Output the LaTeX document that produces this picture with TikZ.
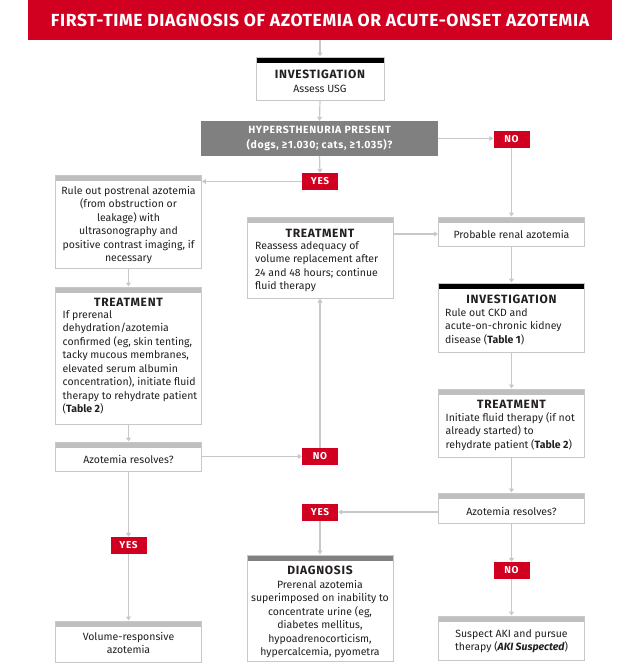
\documentclass[tikz,border=0pt]{standalone}
\usepackage{fontspec}
\setmainfont{Fira Sans}
\newfontfamily\headfont[LetterSpace=6]{Fira Sans}
\newfontfamily\titlefont[LetterSpace=3.5]{Fira Sans}
\usetikzlibrary{arrows.meta}
\definecolor{brandred}{RGB}{210,0,32}
\definecolor{hypgray}{RGB}{128,128,128}
\definecolor{barlight}{RGB}{191,191,191}
\definecolor{edgegray}{RGB}{200,200,200}
\definecolor{linegray}{RGB}{200,200,200}
\definecolor{inktext}{RGB}{35,31,32}
\begin{document}
\begin{tikzpicture}[x=1pt,y=-1pt,
  box/.style={draw=edgegray,line width=1pt,fill=white,inner sep=0pt,minimum width=146pt},
  topbar/.style={path picture={\fill[#1] (path picture bounding box.north west) rectangle ([yshift=-6pt]path picture bounding box.north east);}},
  body/.style={inner sep=0pt,text=inktext,font=\fontsize{10.5}{13.5}\selectfont},
  head/.style={inner sep=0pt,text=inktext,font=\headfont\bfseries\fontsize{12}{14}\selectfont},
  badge/.style={fill=brandred,text=white,inner sep=0pt,minimum width=36pt,minimum height=17pt,font=\headfont\bfseries\fontsize{10}{12}\selectfont},
  conn/.style={draw=linegray,line width=1.2pt,-{Triangle[length=4pt,width=5pt]}},
]
\useasboundingbox (0,0) rectangle (640,672);

% title
\node[fill=brandred,minimum width=584pt,minimum height=40pt,inner sep=0pt,text=white,font=\titlefont\bfseries\fontsize{17.5}{20}\selectfont] (title) at (320,20) {FIRST-TIME DIAGNOSIS OF AZOTEMIA OR ACUTE-ONSET AZOTEMIA};

% investigation
\node[box,topbar=black,minimum width=128pt,minimum height=43pt] (inv1) at (320,78.5) {};
\node[head] (inv1H) at (320,74) {INVESTIGATION};
\node[body] (inv1T) at (320,89) {Assess USG};

% hypersthenuria
\node[fill=hypgray,minimum width=237pt,minimum height=35pt,inner sep=0pt,text=white,align=center,font=\headfont\bfseries\fontsize{10.5}{15.5}\selectfont] (hyp) at (319.5,138.5) {HYPERSTHENURIA PRESENT\\(dogs, ≥1.030; cats, ≥1.035)?};

% badges
\node[badge] (yes1) at (320,181.5) {YES};
\node[badge] (no1) at (511.5,139) {NO};
\node[badge] (no2) at (320,456.5) {NO};
\node[badge] (yes2) at (320,512) {YES};
\node[badge] (yes3) at (128.5,545.5) {YES};
\node[badge] (no3) at (511.5,570.5) {NO};

% left column
\node[box,topbar=barlight,minimum height=93pt] (ruleout) at (128.5,221.5) {};
\node[body,anchor=north,align=center] (ruleoutT) at (128.5,184.5) {\strut Rule out postrenal azotemia\\(from obstruction or\\leakage) with\\ultrasonography and\\positive contrast imaging, if\\necessary};

\node[box,topbar=barlight,minimum height=137pt] (treatL) at (128.5,355.5) {};
\node[head] (treatLH) at (128.5,302) {TREATMENT};
\node[body,anchor=north west,align=left] (treatLT) at (62.5,308.5) {\strut If prerenal\\dehydration/azotemia\\confirmed (eg, skin tenting,\\tacky mucous membranes,\\elevated serum albumin\\concentration), initiate fluid\\therapy to rehydrate patient\\(\textbf{Table 2})};

\node[box,topbar=barlight,minimum height=29pt] (azL) at (128.5,456.5) {};
\node[body] (azLT) at (128.5,459.5) {Azotemia resolves?};

\node[box,topbar=barlight,minimum height=41pt] (vol) at (128.5,641.5) {};
\node[body,anchor=north,align=center] (volT) at (128.5,630.5) {\strut Volume-responsive\\azotemia};

% middle column
\node[box,topbar=barlight,minimum height=81pt] (treatM) at (320,257.5) {};
\node[head] (treatMH) at (320,233) {TREATMENT};
\node[body,anchor=north west,align=left] (treatMT) at (255,239.5) {\strut Reassess adequacy of\\volume replacement after\\24 and 48 hours; continue\\fluid therapy};

\node[box,topbar=hypgray,minimum height=106pt] (diag) at (320,608) {};
\node[head] (diagH) at (320,570.5) {DIAGNOSIS};
\node[body,anchor=north,align=center] (diagT) at (320,578.5) {\strut Prerenal azotemia\\superimposed on inability to\\concentrate urine (eg,\\diabetes mellitus,\\hypoadrenocorticism,\\hypercalcemia, pyometra};

% right column
\node[box,topbar=barlight,minimum height=29pt] (prob) at (511.5,231.5) {};
\node[body] (probT) at (511.5,234) {Probable renal azotemia};

\node[box,topbar=black,minimum height=69pt] (invR) at (511.5,317.5) {};
\node[head] (invRH) at (511.5,299) {INVESTIGATION};
\node[body,anchor=north west,align=left] (invRT) at (445,306.5) {\strut Rule out CKD and\\acute-on-chronic kidney\\disease (\textbf{Table 1})};

\node[box,topbar=barlight,minimum height=68pt] (treatR) at (511.5,423) {};
\node[head] (treatRH) at (511.5,404.5) {TREATMENT};
\node[body,anchor=north west,align=left] (treatRT) at (445.5,411.5) {\strut Initiate fluid therapy (if not\\already started) to\\rehydrate patient (\textbf{Table 2})};

\node[box,topbar=barlight,minimum height=30pt] (azR) at (511.5,508) {};
\node[body] (azRT) at (511.5,511) {Azotemia resolves?};

\node[box,topbar=barlight,minimum height=44pt] (suspect) at (511.5,638) {};
\node[body,anchor=north,align=center] (suspectT) at (511.5,627.5) {\strut Suspect AKI and pursue\\therapy (\textbf{\textit{AKI Suspected}})};

% connectors
\draw[conn] (title.south) -- (inv1.north);
\draw[conn] (inv1.south) -- (hyp.north);
\draw[conn] (hyp.east) -- (hyp.east -| no1.west);
\draw[conn] (no1.south) -- (prob.north);
\draw[conn] (hyp.south) -- (yes1.north);
\draw[conn] (yes1.west) -- (yes1.west -| ruleout.east);
\draw[conn] (ruleout.south) -- (treatL.north);
\draw[conn] (treatL.south) -- (azL.north);
\draw[conn] (no2.west -| azL.east) -- (no2.west);
\draw[conn] (no2.north) -- (treatM.south);
\draw[conn] (probT -| treatM.east) -- (probT -| prob.west);
\draw[conn] (prob.south) -- (invR.north);
\draw[conn] (invR.south) -- (treatR.north);
\draw[conn] (treatR.south) -- (azR.north);
\draw[conn] (yes2.east -| azR.west) -- (yes2.east);
\draw[conn] (yes2.south) -- (diag.north);
\draw[conn] (azR.south) -- (no3.north);
\draw[conn] (no3.south) -- (suspect.north);
\draw[conn] (azL.south) -- (yes3.north);
\draw[conn] (yes3.south) -- (vol.north);
\end{tikzpicture}
\end{document}
